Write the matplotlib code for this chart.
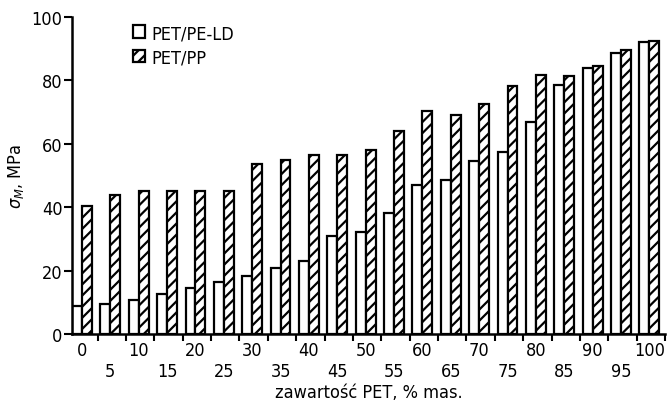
import numpy as np
import matplotlib.pyplot as plt

plt.rcParams["font.family"] = ["DejaVu Sans"]
plt.rcParams["font.stretch"] = "condensed"
plt.rcParams["mathtext.fontset"] = "dejavusans"
plt.rcParams["hatch.linewidth"] = 1.6

# PET content, % mas.
pet_content = [0, 5, 10, 15, 20, 25, 30, 35, 40, 45, 50,
               55, 60, 65, 70, 75, 80, 85, 90, 95, 100]

# tensile strength sigma_M, MPa
pe_ld = [8.9, 9.5, 10.8, 12.7, 14.6, 16.5, 18.4, 20.9, 23.1, 31.0, 32.3,
         38.0, 47.0, 48.5, 54.4, 57.5, 67.0, 78.5, 84.0, 88.6, 92.0]
pp = [40.3, 43.7, 45.0, 45.2, 45.0, 45.0, 53.5, 55.0, 56.3, 56.3, 57.9,
      63.9, 70.2, 68.9, 72.5, 78.1, 81.7, 81.5, 84.4, 89.6, 92.4]

y_ticks = [0, 20, 40, 60, 80, 100]


def main():
    fig = plt.figure(figsize=(6.67, 4.06), dpi=100)
    ax = fig.add_axes([0.108, 0.175, 0.889, 0.781])

    x = np.arange(len(pet_content))
    w = 0.35
    ax.bar(x - w / 2, pe_ld, width=w, facecolor="white", edgecolor="black",
           linewidth=1.6, label="PET/PE-LD")
    ax.bar(x + w / 2, pp, width=w, facecolor="white", edgecolor="black",
           linewidth=1.6, hatch="///", label="PET/PP")

    ax.set_xlim(-0.35, 20.45)
    ax.set_ylim(0, 100)
    for side in ("top", "right"):
        ax.spines[side].set_visible(False)
    ax.spines["left"].set_linewidth(1.8)
    ax.spines["bottom"].set_linewidth(1.8)

    labels = [str(v) if i % 2 == 0 else "\n" + str(v)
              for i, v in enumerate(pet_content)]
    ax.set_xticks(x)
    ax.set_xticklabels(labels, fontsize=13, linespacing=1.25)
    ax.tick_params(axis="x", which="major", length=0, pad=5)
    ax.set_xticks(x + 0.55, minor=True)
    ax.tick_params(axis="x", which="minor", length=5, width=1.5, direction="out")

    ax.set_yticks(y_ticks)
    ax.tick_params(axis="y", length=6, width=1.5, direction="out",
                   labelsize=13, pad=1)

    ax.set_xlabel("zawartość PET, % mas.", fontsize=13, labelpad=2)
    ax.set_ylabel(r"$\sigma_M$, MPa", fontsize=13, labelpad=4)

    ax.legend(loc="upper left", bbox_to_anchor=(0.09, 1.0), frameon=False,
              fontsize=13, handlelength=0.7, handleheight=0.7,
              handletextpad=0.35, labelspacing=0.35, borderaxespad=0)

    fig.savefig("out.png", dpi=100)
    plt.close(fig)


if __name__ == "__main__":
    main()
